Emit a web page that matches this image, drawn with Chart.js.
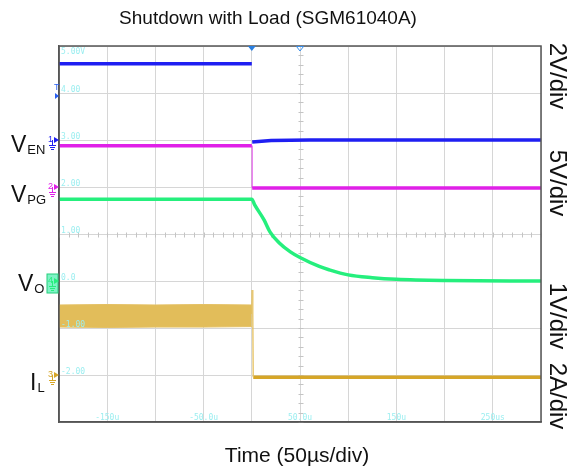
<!DOCTYPE html>
<html>
<head>
<meta charset="utf-8">
<script src="https://cdn.jsdelivr.net/npm/chart.js@4/dist/chart.umd.min.js"></script>
<style>
html, body { margin: 0; padding: 0; background: #fff; }
</style>
</head>
<body>
<canvas id="scope" width="569" height="473"></canvas>
<script>
// time in us, values in screen divisions (read against the 1V/div V_O scale)
var enTime = [-200, 0, 0, 0.4, 20, 60, 300];
var enVal = [4.62, 4.62, null, 2.96, 2.99, 3.0, 3.0];

var pgTime = [-200, 0, 0, 0.4, 300];
var pgVal = [2.88, 2.88, null, 1.98, 1.98];
var pgEdgeTime = [0.4, 0.4];
var pgEdgeVal = [2.88, 1.98];

var voTime = [-200, 0, 3, 12.7, 19, 28, 40, 50, 70, 80, 100, 125, 150, 200, 300];
var voVal = [1.74, 1.74, 1.62, 1.30, 1.04, 0.82, 0.62, 0.50, 0.31, 0.24, 0.13, 0.07, 0.035, 0.01, 0];

var ilBandTime = [-200, -150, -100, -50, 0];
var ilBandHigh = [-0.51, -0.50, -0.51, -0.50, -0.51];
var ilBandLow = [-0.98, -0.99, -0.98, -0.98, -0.97];
var ilSpikeTime = [0, 0.3, 1.0, 1.5];
var ilSpikeVal = [-0.7, -0.19, -0.7, -2.05];
var ilAfterTime = [1.5, 300];
var ilAfterVal = [-2.05, -2.05];

var yLabels = ['5.00V', '4.00', '3.00', '2.00', '1.00', '0.0', '-1.00', '-2.00'];
var yLabelVals = [5, 4, 3, 2, 1, 0, -1, -2];
var tLabels = ['-150u', '-50.0u', '50.0u', '150u', '250us'];
var tLabelVals = [-150, -50, 50, 150, 250];

var chNames = ['1', '2', '4', '3'];
var chLevels = [3, 2, 0, -2];
var chColors = ['#1f1ff2', '#e020e8', '#25ef7d', '#d6a628'];
var trigLevel = 4.02;

function pts(t, v) {
    var out = [];
    for (var i = 0; i < t.length; i++) out.push({ x: t[i], y: v[i] });
    return out;
}

function trace(t, v, color, width) {
    return { data: pts(t, v), borderColor: color, borderWidth: width, pointRadius: 0, tension: 0, fill: false, spanGaps: false };
}

var bandHigh = trace(ilBandTime, ilBandHigh, '#e4c063', 1);
var bandLow = trace(ilBandTime, ilBandLow, '#e4c063', 1);
bandLow.fill = '-1';
bandLow.backgroundColor = '#e2bd5a';

var voTrace = trace(voTime, voVal, '#25ef7d', 3.5);
voTrace.cubicInterpolationMode = 'monotone';

var datasets = [
    trace(pgEdgeTime, pgEdgeVal, 'rgba(224,32,232,0.35)', 1),
    trace(enTime, enVal, '#1f1ff2', 3.5),
    trace(pgTime, pgVal, '#e020e8', 3.5),
    voTrace,
    bandHigh,
    bandLow,
    trace(ilSpikeTime, ilSpikeVal, 'rgba(228,190,90,0.85)', 1.5),
    trace(ilAfterTime, ilAfterVal, '#d6a628', 3.5)
];

function label(ctx, main, sub, x, y) {
    ctx.font = '23px "Liberation Sans", Arial, sans-serif';
    ctx.fillText(main, x, y);
    var w = ctx.measureText(main).width;
    ctx.font = '13px "Liberation Sans", Arial, sans-serif';
    ctx.fillText(sub, x + w + 1, y + 2);
}

var scopeDecor = {
    id: 'scopeDecor',
    beforeDatasetsDraw: function (chart) {
        var ctx = chart.ctx, xs = chart.scales.x, ys = chart.scales.y;
        var cx = Math.round(xs.getPixelForValue(50)) + 0.5;
        var cy = Math.round(ys.getPixelForValue(1)) + 0.5;
        ctx.save();
        ctx.strokeStyle = '#c4c4c4';
        ctx.lineWidth = 1;
        ctx.beginPath();
        for (var v = -3; v <= 5.001; v += 0.2) {
            var py = Math.round(ys.getPixelForValue(v)) + 0.5;
            ctx.moveTo(cx - 2, py); ctx.lineTo(cx + 3, py);
        }
        for (var t = -200; t <= 300.001; t += 10) {
            var px = Math.round(xs.getPixelForValue(t)) + 0.5;
            ctx.moveTo(px, cy - 2); ctx.lineTo(px, cy + 3);
        }
        ctx.stroke();
        ctx.restore();
    },
    afterDatasetsDraw: function (chart) {
        var ctx = chart.ctx, xs = chart.scales.x, ys = chart.scales.y, a = chart.chartArea;
        ctx.save();
        // frame
        ctx.strokeStyle = '#555';
        ctx.lineWidth = 1.5;
        ctx.strokeRect(a.left, a.top, a.right - a.left, a.bottom - a.top);

        // cyan readouts
        ctx.fillStyle = '#9ceef0';
        ctx.font = '8px "DejaVu Sans Mono", monospace';
        ctx.textAlign = 'left';
        ctx.textBaseline = 'alphabetic';
        for (var i = 0; i < yLabels.length; i++) {
            var py = ys.getPixelForValue(yLabelVals[i]);
            ctx.fillText(yLabels[i], a.left + 2, i === 0 ? py + 8 : py - 1);
        }
        ctx.textAlign = 'center';
        for (var j = 0; j < tLabels.length; j++) {
            ctx.fillText(tLabels[j], xs.getPixelForValue(tLabelVals[j]), a.bottom - 2);
        }

        // trigger position markers on top
        var tx = xs.getPixelForValue(0), hx = xs.getPixelForValue(50);
        ctx.fillStyle = '#2a7fe0';
        ctx.beginPath();
        ctx.moveTo(tx - 4, a.top); ctx.lineTo(tx + 4, a.top); ctx.lineTo(tx, a.top + 5); ctx.closePath();
        ctx.fill();
        ctx.strokeStyle = '#3a8ee8';
        ctx.lineWidth = 1;
        ctx.beginPath();
        ctx.moveTo(hx - 3.5, a.top + 0.5); ctx.lineTo(hx + 3.5, a.top + 0.5); ctx.lineTo(hx, a.top + 5); ctx.closePath();
        ctx.stroke();

        // channel ground markers
        for (var k = 0; k < chNames.length; k++) {
            var gy = ys.getPixelForValue(chLevels[k]);
            var c = chColors[k];
            if (chNames[k] === '4') {
                ctx.fillStyle = '#7ff3c6';
                ctx.fillRect(a.left - 12, gy - 7, 11, 19);
                ctx.strokeStyle = '#25d07d';
                ctx.strokeRect(a.left - 12, gy - 7, 11, 19);
            }
            ctx.fillStyle = c;
            ctx.strokeStyle = c;
            ctx.font = '9px "Liberation Sans", Arial, sans-serif';
            ctx.textAlign = 'left';
            ctx.fillText(chNames[k], a.left - 11, gy + 2);
            ctx.beginPath();
            ctx.moveTo(a.left - 5, gy - 3); ctx.lineTo(a.left, gy); ctx.lineTo(a.left - 5, gy + 3); ctx.closePath();
            ctx.fill();
            ctx.lineWidth = 1;
            ctx.beginPath();
            ctx.moveTo(a.left - 6.5, gy); ctx.lineTo(a.left - 6.5, gy + 5);
            ctx.moveTo(a.left - 10, gy + 5.5); ctx.lineTo(a.left - 3, gy + 5.5);
            ctx.moveTo(a.left - 9, gy + 7.5); ctx.lineTo(a.left - 4, gy + 7.5);
            ctx.moveTo(a.left - 8, gy + 9.5); ctx.lineTo(a.left - 5, gy + 9.5);
            ctx.stroke();
        }
        // trigger level
        var ty = ys.getPixelForValue(trigLevel);
        ctx.fillStyle = '#2a5ff0';
        ctx.font = '9px "Liberation Sans", Arial, sans-serif';
        ctx.fillText('T', a.left - 5, ty - 2);
        ctx.beginPath();
        ctx.moveTo(a.left - 4, ty + 1); ctx.lineTo(a.left, ty + 4); ctx.lineTo(a.left - 4, ty + 7); ctx.closePath();
        ctx.fill();
        ctx.restore();
    },
    afterDraw: function (chart) {
        var ctx = chart.ctx;
        ctx.save();
        ctx.fillStyle = '#111';
        ctx.textBaseline = 'alphabetic';
        ctx.textAlign = 'center';
        ctx.font = '19px "Liberation Sans", Arial, sans-serif';
        ctx.fillText('Shutdown with Load (SGM61040A)', 268, 24);
        ctx.font = '21px "Liberation Sans", Arial, sans-serif';
        ctx.fillText('Time (50\u00b5s/div)', 297, 462);

        ctx.textAlign = 'left';
        label(ctx, 'V', 'EN', 11, 152);
        label(ctx, 'V', 'PG', 11, 202);
        label(ctx, 'V', 'O', 18, 291);
        label(ctx, 'I', 'L', 30, 390);

        var side = ['2V/div', '5V/div', '1V/div', '2A/div'];
        var sideY = [76, 183, 316, 396];
        ctx.font = '24px "Liberation Sans", Arial, sans-serif';
        ctx.textAlign = 'center';
        ctx.textBaseline = 'middle';
        for (var i = 0; i < side.length; i++) {
            ctx.save();
            ctx.translate(557, sideY[i]);
            ctx.rotate(Math.PI / 2);
            ctx.fillText(side[i], 0, 0);
            ctx.restore();
        }
        ctx.restore();
    }
};

new Chart(document.getElementById('scope'), {
    type: 'line',
    data: { datasets: datasets },
    options: {
        responsive: false,
        animation: false,
        events: [],
        layout: { padding: { left: 59, right: 28, top: 46, bottom: 51 } },
        plugins: { legend: { display: false }, tooltip: { enabled: false }, title: { display: false } },
        scales: {
            x: {
                type: 'linear', min: -200, max: 300,
                ticks: { display: false, stepSize: 50 },
                grid: { color: '#d6d6d6', drawTicks: false },
                border: { color: '#555', width: 1.5 }
            },
            y: {
                type: 'linear', min: -3, max: 5,
                ticks: { display: false, stepSize: 1 },
                grid: { color: '#d6d6d6', drawTicks: false },
                border: { color: '#555', width: 1.5 }
            }
        }
    },
    plugins: [scopeDecor]
});
</script>
</body>
</html>
